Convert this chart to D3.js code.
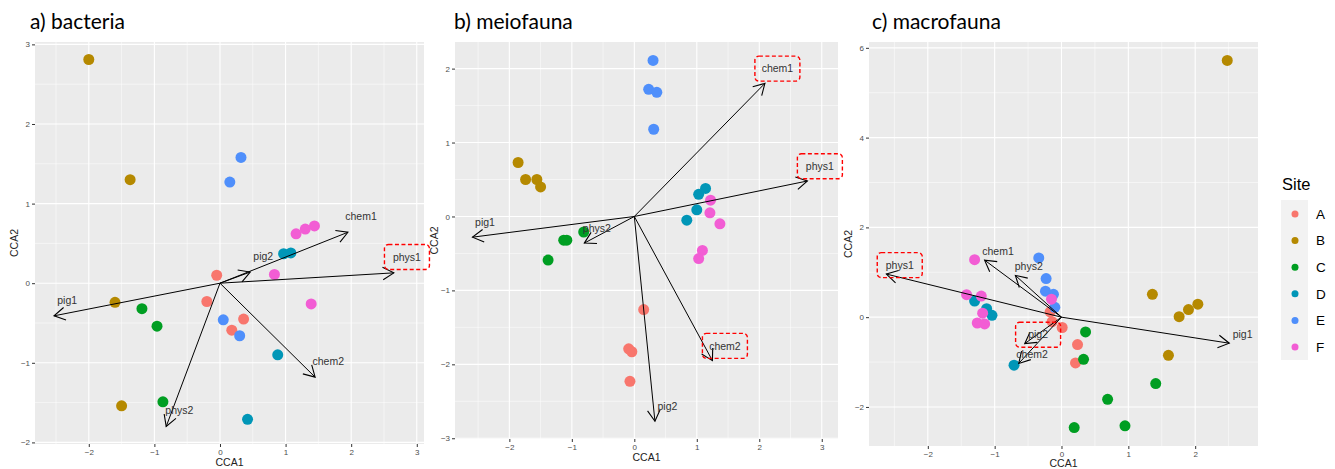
<!DOCTYPE html>
<html>
<head>
<meta charset="utf-8">
<script src="https://cdn.jsdelivr.net/npm/d3@7"></script>
<style>
  body { margin: 0; background: #fff; }
  svg { display: block; }
</style>
</head>
<body>
<div id="chart"></div>
<script>
// site legend
const sites = ["A", "B", "C", "D", "E", "F"];
const siteColors = ["#F8766D", "#B58900", "#009E22", "#0096B7", "#4F8FFB", "#F25DD4"];

// environmental vectors (same names in every panel)
const envVars = ["chem1", "phys1", "pig2", "pig1", "chem2", "phys2"];

// a) bacteria
const bactSite = ["A","A","A","A","B","B","B","B","C","C","C","D","D","D","D","E","E","E","E","F","F","F","F","F"];
const bactCCA1 = [-0.05,-0.20,0.36,0.18,-2.00,-1.37,-1.60,-1.50,-1.19,-0.96,-0.87,0.97,1.08,0.88,0.42,0.32,0.15,0.05,0.30,1.16,1.30,1.44,0.83,1.39];
const bactCCA2 = [0.10,-0.23,-0.45,-0.59,2.81,1.30,-0.24,-1.54,-0.32,-0.54,-1.49,0.37,0.38,-0.90,-1.71,1.58,1.27,-0.46,-0.66,0.62,0.68,0.72,0.11,-0.26];
const bactArrow1 = [1.95, 2.65, 0.46, -2.53, 1.45, -0.82];
const bactArrow2 = [0.64, 0.13, 0.14, -0.41, -1.18, -1.80];
const bactBoxed = ["phys1"];

// b) meiofauna
const meioSite = ["A","A","A","A","B","B","B","B","C","C","C","C","D","D","D","D","E","E","E","E","F","F","F","F","F"];
const meioCCA1 = [0.15,-0.09,-0.04,-0.07,-1.86,-1.74,-1.56,-1.50,-1.38,-1.13,-1.08,-0.81,0.84,1.00,1.03,1.14,0.30,0.23,0.36,0.31,1.22,1.21,1.37,1.09,1.03];
const meioCCA2 = [-1.26,-1.79,-1.83,-2.23,0.73,0.50,0.50,0.40,-0.59,-0.32,-0.32,-0.21,-0.05,0.09,0.30,0.38,2.11,1.72,1.68,1.18,0.22,0.05,-0.10,-0.46,-0.57];
const meioArrow1 = [2.09, 2.77, 0.33, -2.59, 1.25, -0.80];
const meioArrow2 = [1.80, 0.48, -2.77, -0.28, -1.95, -0.36];
const meioBoxed = ["chem1", "phys1", "chem2"];

// c) macrofauna
const macroSite = ["A","A","A","A","A","B","B","B","B","B","B","C","C","C","C","C","C","D","D","D","D","E","E","E","E","E","F","F","F","F","F","F","F"];
const macroCCA1 = [-0.17,-0.14,0.01,0.24,0.21,1.36,1.76,1.90,2.04,1.60,2.48,0.36,0.33,1.41,0.69,0.19,0.95,-1.30,-1.12,-1.04,-0.71,-0.34,-0.23,-0.24,-0.12,-0.10,-1.30,-1.42,-1.20,-1.18,-1.26,-1.15,-0.15];
const macroCCA2 = [0.12,-0.10,-0.23,-0.61,-1.02,0.51,0.01,0.17,0.29,-0.85,5.72,-0.33,-0.94,-1.48,-1.83,-2.46,-2.42,0.36,0.19,0.04,-1.07,1.32,0.86,0.58,0.51,0.22,1.28,0.50,0.47,0.09,-0.13,-0.15,0.40];
const macroArrow1 = [-1.15, -2.62, -0.55, 2.51, -0.64, -0.69];
const macroArrow2 = [1.27, 0.96, -0.59, -0.58, -1.03, 0.93];
const macroBoxed = ["phys1", "pig2"];

// label offset from arrow tip, in data units
const labelNudge = 0.2;

const panels = [
  { title: "a) bacteria", titleX: 30, left: 35, right: 424, top: 42, bottom: 444,
    xDomain: [-2.82, 3.11], yDomain: [-2.02, 3.03], xTicks: [-2, -1, 0, 1, 2, 3], yTicks: [-2, -1, 0, 1, 2, 3],
    site: bactSite, cca1: bactCCA1, cca2: bactCCA2, a1: bactArrow1, a2: bactArrow2, boxed: bactBoxed },
  { title: "b) meiofauna", titleX: 454, left: 455, right: 838, top: 42, bottom: 439,
    xDomain: [-2.87, 3.26], yDomain: [-3.01, 2.36], xTicks: [-2, -1, 0, 1, 2, 3], yTicks: [-3, -2, -1, 0, 1, 2],
    site: meioSite, cca1: meioCCA1, cca2: meioCCA2, a1: meioArrow1, a2: meioArrow2, boxed: meioBoxed },
  { title: "c) macrofauna", titleX: 872, left: 869, right: 1258, top: 42, bottom: 446,
    xDomain: [-2.88, 2.94], yDomain: [-2.87, 6.13], xTicks: [-2, -1, 0, 1, 2], yTicks: [-2, 0, 2, 4, 6],
    site: macroSite, cca1: macroCCA1, cca2: macroCCA2, a1: macroArrow1, a2: macroArrow2, boxed: macroBoxed }
];

const svg = d3.select("#chart").append("svg")
  .attr("width", 1335)
  .attr("height", 469)
  .style("font-family", "'Liberation Sans', Arial, sans-serif");

svg.append("rect").attr("width", 1335).attr("height", 469).attr("fill", "#fff");

// open arrow head like ggplot arrow()
svg.append("defs").append("marker")
  .attr("id", "head")
  .attr("viewBox", "-13 -8 15 16")
  .attr("refX", 0).attr("refY", 0)
  .attr("markerWidth", 15).attr("markerHeight", 16)
  .attr("markerUnits", "userSpaceOnUse")
  .attr("orient", "auto")
  .append("path")
  .attr("d", "M-11,-6.3L0,0L-11,6.3")
  .attr("fill", "none")
  .attr("stroke", "#000")
  .attr("stroke-width", 1.1);

const color = d3.scaleOrdinal().domain(sites).range(siteColors);

// minor gridlines halfway between the major ones, plus one past each end
function minors(ticks, domain) {
  const step = ticks[1] - ticks[0];
  const out = [];
  for (let i = -1; i < ticks.length; i++) {
    const v = ticks[0] + step * (i + 0.5);
    if (v > domain[0] && v < domain[1]) out.push(v);
  }
  return out;
}

function drawPanel(p) {
  const x = d3.scaleLinear().domain(p.xDomain).range([p.left, p.right]);
  const y = d3.scaleLinear().domain(p.yDomain).range([p.bottom, p.top]);
  const g = svg.append("g");

  g.append("text")
    .attr("x", p.titleX).attr("y", 29)
    .attr("font-family", "Lato, 'Open Sans', sans-serif")
    .attr("font-size", 21)
    .attr("fill", "#000")
    .text(p.title);

  g.append("rect")
    .attr("x", p.left).attr("y", p.top)
    .attr("width", p.right - p.left).attr("height", p.bottom - p.top)
    .attr("fill", "#EBEBEB");

  // grid
  const grid = g.append("g").attr("stroke", "#fff").attr("fill", "none");
  minors(p.xTicks, p.xDomain).forEach(v => grid.append("line")
    .attr("x1", x(v)).attr("x2", x(v)).attr("y1", p.top).attr("y2", p.bottom).attr("stroke-width", 0.5));
  minors(p.yTicks, p.yDomain).forEach(v => grid.append("line")
    .attr("y1", y(v)).attr("y2", y(v)).attr("x1", p.left).attr("x2", p.right).attr("stroke-width", 0.5));
  p.xTicks.forEach(v => grid.append("line")
    .attr("x1", x(v)).attr("x2", x(v)).attr("y1", p.top).attr("y2", p.bottom).attr("stroke-width", 1.1));
  p.yTicks.forEach(v => grid.append("line")
    .attr("y1", y(v)).attr("y2", y(v)).attr("x1", p.left).attr("x2", p.right).attr("stroke-width", 1.1));

  // axes
  const xAxis = d3.axisBottom(x).tickValues(p.xTicks).tickSize(3).tickPadding(2).tickFormat(d3.format("d"));
  const yAxis = d3.axisLeft(y).tickValues(p.yTicks).tickSize(3).tickPadding(2).tickFormat(d3.format("d"));
  const gx = g.append("g").attr("transform", `translate(0,${p.bottom})`).call(xAxis);
  const gy = g.append("g").attr("transform", `translate(${p.left},0)`).call(yAxis);
  [gx, gy].forEach(a => {
    a.select(".domain").remove();
    a.selectAll(".tick line").attr("stroke", "#333");
    a.selectAll(".tick text").attr("fill", "#4D4D4D").attr("font-size", 8);
  });

  g.append("text")
    .attr("x", (p.left + p.right) / 2).attr("y", Math.min(p.bottom + 22, 466.5))
    .attr("text-anchor", "middle").attr("font-size", 10.5).attr("fill", "#222")
    .text("CCA1");
  g.append("text")
    .attr("transform", `translate(${p.left - 17},${(p.top + p.bottom) / 2}) rotate(-90)`)
    .attr("text-anchor", "middle").attr("font-size", 10.5).attr("fill", "#222")
    .text("CCA2");

  // site scores
  g.append("g").selectAll("circle")
    .data(p.site.map((s, i) => ({ s: s, x: p.cca1[i], y: p.cca2[i] })))
    .join("circle")
    .attr("cx", d => x(d.x))
    .attr("cy", d => y(d.y))
    .attr("r", 5.5)
    .attr("fill", d => color(d.s));

  // biplot arrows
  const arrows = envVars.map((v, i) => ({ v: v, x: p.a1[i], y: p.a2[i] }));
  g.append("g").selectAll("line")
    .data(arrows)
    .join("line")
    .attr("x1", x(0)).attr("y1", y(0))
    .attr("x2", d => x(d.x)).attr("y2", d => y(d.y))
    .attr("stroke", "#000")
    .attr("stroke-width", 1)
    .attr("marker-end", "url(#head)");

  g.append("g").selectAll("text")
    .data(arrows)
    .join("text")
    .attr("x", d => x(d.x + labelNudge))
    .attr("y", d => y(d.y + labelNudge))
    .attr("dy", "0.35em")
    .attr("text-anchor", "middle")
    .attr("font-size", 10.5)
    .attr("fill", "#333")
    .text(d => d.v);

  // highlighted labels
  g.append("g").selectAll("rect")
    .data(arrows.filter(d => p.boxed.includes(d.v)))
    .join("rect")
    .attr("x", d => x(d.x + labelNudge) - 22.5)
    .attr("y", d => y(d.y + labelNudge) - 12.5)
    .attr("width", 45).attr("height", 25)
    .attr("rx", 4)
    .attr("fill", "none")
    .attr("stroke", "#F00")
    .attr("stroke-width", 1.4)
    .attr("stroke-dasharray", "4,2.5");
}

panels.forEach(drawPanel);

// legend
const legend = svg.append("g");
legend.append("text")
  .attr("x", 1282).attr("y", 190)
  .attr("font-size", 16.5).attr("fill", "#000")
  .text("Site");
legend.append("rect")
  .attr("x", 1281).attr("y", 200).attr("width", 27).attr("height", 160)
  .attr("fill", "#F2F2F2");
const ly = d3.scalePoint().domain(sites).range([214, 347]);
legend.selectAll("circle")
  .data(sites)
  .join("circle")
  .attr("cx", 1295).attr("cy", d => ly(d))
  .attr("r", 3.5)
  .attr("fill", d => color(d));
legend.selectAll("text.lab")
  .data(sites)
  .join("text")
  .attr("class", "lab")
  .attr("x", 1316).attr("y", d => ly(d))
  .attr("dy", "0.36em")
  .attr("font-size", 13.5).attr("fill", "#000")
  .text(d => d);
</script>
</body>
</html>
